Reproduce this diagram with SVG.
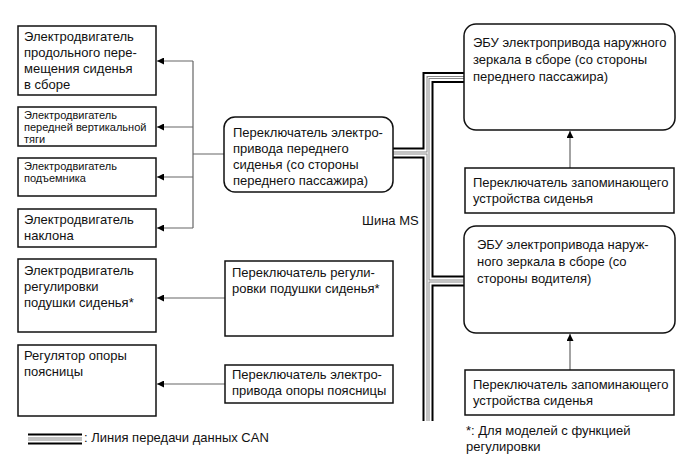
<svg xmlns="http://www.w3.org/2000/svg" width="691" height="467" viewBox="0 0 691 467">
<style>
text{font-family:"Liberation Sans",Arial,sans-serif;font-size:13px;fill:#111}
.s{font-size:11px}
.b{fill:#fff;stroke:#111;stroke-width:1.5}
.c{fill:none;stroke:#666;stroke-width:1.2}
.k1{fill:none;stroke:#000;stroke-width:11}
.k2{fill:none;stroke:#fff;stroke-width:7}
.k3{fill:none;stroke:#888;stroke-width:3}
.k4{fill:none;stroke:#fff;stroke-width:1}
</style>
<defs>
<marker id="ah" viewBox="0 0 10 10" refX="10" refY="5" markerWidth="9" markerHeight="7" markerUnits="userSpaceOnUse" orient="auto"><path d="M0,0 L10,5 L0,10 z" fill="#000"/></marker>
<path id="bus1" d="M464,77.5 H428 V421"/>
<path id="bus2" d="M393,153 H428"/>
<path id="bus3" d="M428,281 H464"/>
<path id="leg" d="M28,439 H82"/>
</defs>
<rect width="691" height="467" fill="#fff"/>
<g id="connectors">
<path class="c" d="M224,154 H193 M193,61 V228" />
<path class="c" d="M193,61 H157" marker-end="url(#ah)"/>
<path class="c" d="M193,127 H157" marker-end="url(#ah)"/>
<path class="c" d="M193,177 H157" marker-end="url(#ah)"/>
<path class="c" d="M193,228 H157" marker-end="url(#ah)"/>
<path class="c" d="M225,298 H157" marker-end="url(#ah)"/>
<path class="c" d="M225,384 H157" marker-end="url(#ah)"/>
<path class="c" d="M570,168 V131" marker-end="url(#ah)"/>
<path class="c" d="M570,370 V334" marker-end="url(#ah)"/>
<g id="can-bus">
<use href="#bus1" class="k1"/><use href="#bus2" class="k1"/><use href="#bus3" class="k1"/>
<use href="#bus1" class="k2"/><use href="#bus2" class="k2"/><use href="#bus3" class="k2"/>
<use href="#bus1" class="k3"/><use href="#bus2" class="k3"/><use href="#bus3" class="k3"/>
<use href="#bus1" class="k4"/><use href="#bus2" class="k4"/><use href="#bus3" class="k4"/>
</g>
</g>
<g id="n1"><rect class="b" x="18" y="26" width="138" height="69"/>
<text x="24" y="41">Электродвигатель</text><text x="24" y="57">продольного пере-</text><text x="24" y="73">мещения сиденья</text><text x="24" y="89">в сборе</text></g>
<g id="n2"><rect class="b" x="18" y="107" width="138" height="39"/>
<text class="s" x="24" y="119">Электродвигатель</text><text class="s" x="24" y="131">передней вертикальной</text><text class="s" x="24" y="143">тяги</text></g>
<g id="n3"><rect class="b" x="18" y="158" width="138" height="38"/>
<text class="s" x="24" y="170">Электродвигатель</text><text class="s" x="24" y="182">подъемника</text></g>
<g id="n4"><rect class="b" x="18" y="209" width="138" height="38"/>
<text x="24" y="224">Электродвигатель</text><text x="24" y="240">наклона</text></g>
<g id="n5"><rect class="b" x="18" y="259" width="138" height="73"/>
<text x="24" y="275">Электродвигатель</text><text x="24" y="291">регулировки</text><text x="24" y="307">подушки сиденья*</text></g>
<g id="n6"><rect class="b" x="18" y="345" width="138" height="71"/>
<text x="24" y="360">Регулятор опоры</text><text x="24" y="376">поясницы</text></g>
<g id="n7"><rect class="b" x="224" y="117" width="169" height="75" rx="11"/>
<text x="233" y="137">Переключатель электро-</text><text x="233" y="153">привода переднего</text><text x="233" y="169">сиденья (со стороны</text><text x="233" y="185">переднего пассажира)</text></g>
<g id="n8"><rect class="b" x="225" y="261" width="168" height="75"/>
<text x="232" y="277">Переключатель регули-</text><text x="232" y="293">ровки подушки сиденья*</text></g>
<g id="n9"><rect class="b" x="225" y="365" width="168" height="38"/>
<text x="232" y="379">Переключатель электро-</text><text x="232" y="395">привода опоры поясницы</text></g>
<g id="n10"><rect class="b" x="464" y="24" width="211" height="106" rx="12"/>
<text x="473" y="47">ЭБУ электропривода наружного</text><text x="473" y="64">зеркала в сборе (со стороны</text><text x="473" y="81">переднего пассажира)</text></g>
<g id="n11"><rect class="b" x="465" y="168" width="209" height="45"/>
<text x="473" y="187">Переключатель запоминающего</text><text x="473" y="203">устройства сиденья</text></g>
<g id="n12"><rect class="b" x="464" y="226" width="211" height="107" rx="12"/>
<text x="477" y="249">ЭБУ электропривода наруж-</text><text x="477" y="266">ного зеркала в сборе (со</text><text x="477" y="283">стороны водителя)</text></g>
<g id="n13"><rect class="b" x="465" y="370" width="209" height="45"/>
<text x="473" y="389">Переключатель запоминающего</text><text x="473" y="405">устройства сиденья</text></g>
<text x="362" y="225">Шина MS</text>
<g id="legend">
<use href="#leg" class="k1"/><use href="#leg" class="k2"/><use href="#leg" class="k3"/><use href="#leg" class="k4"/>
<text x="84" y="442">: Линия передачи данных CAN</text>
</g>
<text x="466" y="435">*: Для моделей с функцией</text>
<text x="466" y="451">регулировки</text>
</svg>
